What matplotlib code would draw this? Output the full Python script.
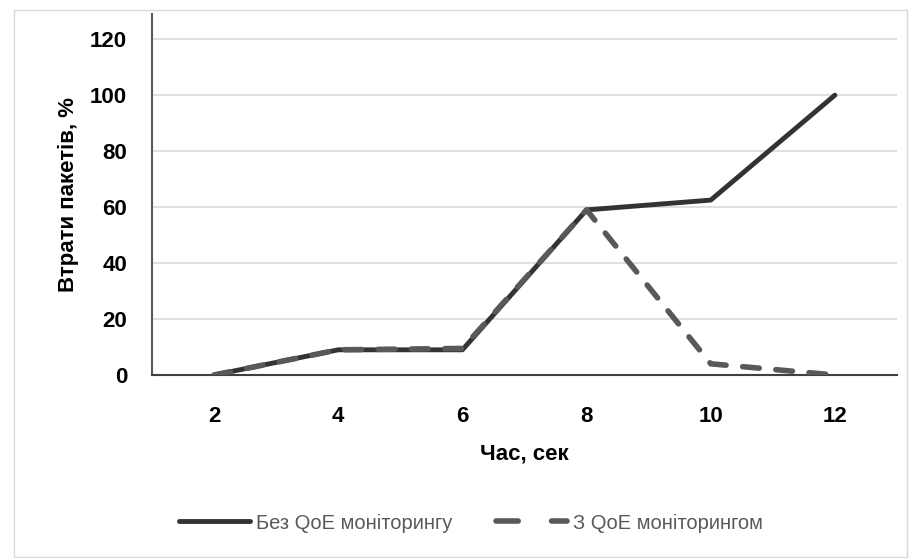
import matplotlib
matplotlib.use("Agg")
import matplotlib.pyplot as plt
from matplotlib.patches import Rectangle
from matplotlib.lines import Line2D

time_sec = [2, 4, 6, 8, 10, 12]
without_qoe = [0, 9, 9, 59, 62.5, 100]
with_qoe = [0, 9, 9.5, 59, 4, 0]
y_ticks = [0, 20, 40, 60, 80, 100, 120]
label_without = "Без QoE моніторингу"
label_with = "З QoE моніторингом"

plt.rcParams['font.family'] = ['Liberation Sans Narrow', 'Liberation Sans', 'DejaVu Sans']

fig = plt.figure(figsize=(9.09, 5.58), dpi=100)
fig.patch.set_facecolor("white")
fig.add_artist(Rectangle((14/909, 0.002), 1 - 14/909 - 0.002, 1 - 10/558 - 0.002,
                         transform=fig.transFigure, fill=False, edgecolor="#d9d9d9", lw=1))

ax = fig.add_axes([152/909, 1 - 375/558, (897 - 152)/909, (375 - 14)/558])
x = list(range(len(time_sec)))
ax.plot(x, without_qoe, color="#333333", lw=3.5, solid_capstyle="round", zorder=3)
ax.plot(x, with_qoe, color="#595959", lw=4, dashes=(3, 3), dash_capstyle="round", zorder=4)

ax.set_xlim(-0.5, len(time_sec) - 0.5)
ax.set_ylim(0, 129)
ax.set_yticks(y_ticks)
ax.set_xticks(x)
ax.set_xticklabels([str(t) for t in time_sec])
ax.grid(axis="y", color="#d9d9d9", lw=1.2)
ax.set_axisbelow(True)
for s in ["top", "right"]:
    ax.spines[s].set_visible(False)
ax.spines["left"].set_color("#595959")
ax.spines["left"].set_linewidth(1.5)
ax.spines["bottom"].set_color("#404040")
ax.spines["bottom"].set_linewidth(1.5)
ax.tick_params(length=0)
ax.tick_params(axis="x", pad=22)
ax.tick_params(axis="y", pad=18)
for lab in ax.get_xticklabels() + ax.get_yticklabels():
    lab.set_fontsize(16)
    lab.set_fontweight("bold")

ax.set_xlabel("Час, сек", fontsize=16, fontweight="bold", labelpad=12)
ax.set_ylabel("Втрати пакетів, %", fontsize=16, fontweight="bold", labelpad=8)

handles = [Line2D([0], [0], color="#333333", lw=3.5, solid_capstyle="round"),
           Line2D([0], [0], color="#595959", lw=4, dashes=(4, 6), dash_capstyle="round")]
fig.legend(handles, [label_without, label_with], loc="center", bbox_to_anchor=(0.518, 1 - 523/558),
           ncol=2, frameon=False, fontsize=14.5, handlelength=3.5, handletextpad=0.3,
           columnspacing=2.2, labelcolor="#595959")

fig.savefig("out.png", dpi=100)
